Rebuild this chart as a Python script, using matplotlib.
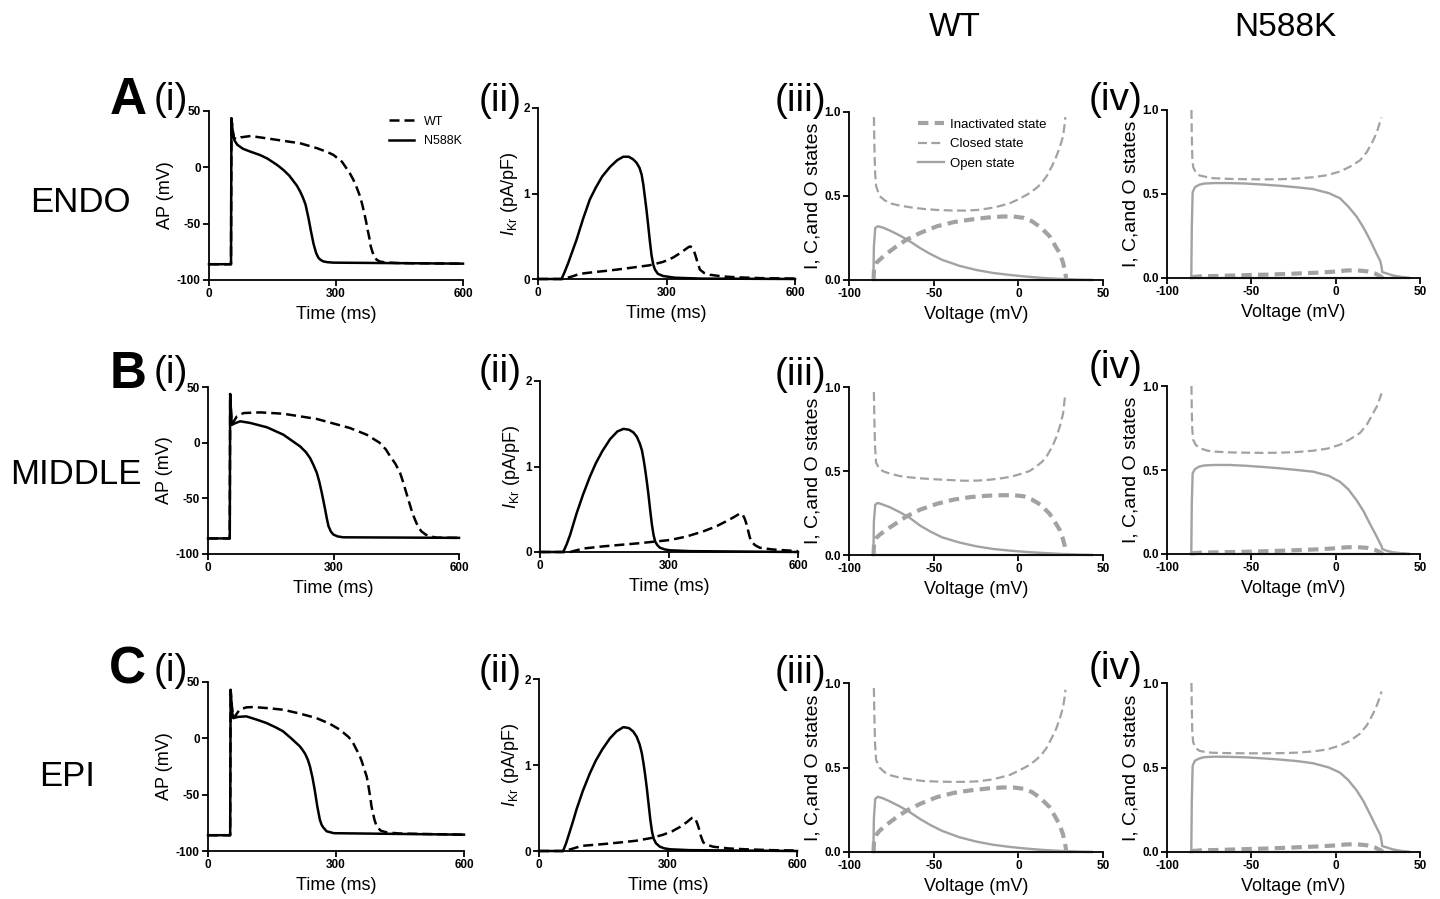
import numpy as np
import matplotlib.pyplot as plt

plt.rcParams['font.family'] = ['Liberation Sans', 'DejaVu Sans']
plt.rcParams['mathtext.fontset'] = 'custom'
plt.rcParams['mathtext.rm'] = 'Liberation Sans'
plt.rcParams['mathtext.it'] = 'Liberation Sans:italic'

# ---------------- action potentials (ms, mV) ----------------
endo_ap_wt_t = [0, 50, 52, 53, 56, 59, 67, 75, 98, 137, 176, 216, 255, 280, 294, 314, 325, 333, 341, 349, 357, 362, 367, 371, 375, 379, 382, 386, 390, 396, 404, 420, 450, 600]
endo_ap_wt_v = [-86, -86, -86, 43.5, 33, 26, 25, 26.6, 27.8, 25.7, 23.5, 21.3, 17, 13.5, 11, 5, -1, -5.5, -11, -18, -26, -33, -41, -48, -56, -63, -70, -75, -79, -82, -83.7, -84.5, -85, -85.5]
endo_ap_mut_t = [0, 50, 52, 53, 56, 60, 67, 80, 98, 120, 137, 161, 176, 190, 200, 208, 216, 222, 228, 235, 241, 247, 253, 258, 263, 270, 280, 294, 600]
endo_ap_mut_v = [-86, -86, -86, 43.5, 32, 24, 20, 16.5, 13.9, 11, 8, 2.1, -2.4, -7.5, -12.5, -16.5, -22, -27, -33, -45, -57, -68, -76, -80, -82, -83.5, -84.2, -84.6, -85.5]

mid_ap_wt_t = [0, 50, 52, 53, 55, 57, 63, 69, 85, 125, 180, 260, 339, 379, 410, 425, 435, 448, 459, 467, 474, 480, 486, 492, 498, 504, 510, 520, 530, 546, 600]
mid_ap_wt_v = [-86, -86, -86, 43.7, 28, 17, 20, 23.6, 26.6, 27.2, 26, 21.3, 13.2, 7.2, 0, -6, -12, -19, -27, -36, -45, -52.5, -60, -66.5, -72, -76.5, -79.6, -82.5, -84, -85.3, -85.5]
mid_ap_mut_t = [0, 50, 52, 53, 55, 57, 65, 77, 101, 141, 180, 220, 234, 244, 252, 260, 266, 272, 276, 280, 284, 288, 294, 300, 310, 323, 600]
mid_ap_mut_v = [-86, -86, -86, 43.7, 28, 16, 17.5, 19.2, 17.7, 13.8, 7.2, -3.3, -8.5, -13.8, -20, -27, -35, -45, -52.5, -60, -68, -75, -80, -82.6, -84.2, -85, -85.5]

epi_ap_wt_t = [0, 50, 52, 53, 56, 59, 64, 74, 90, 106, 140, 176, 215, 254, 285, 309, 330, 340, 348, 355, 360, 366, 372, 375, 378, 381, 383, 387, 390, 395, 405, 419, 450, 600]
epi_ap_wt_v = [-86, -86, -86, 43, 28, 18, 20, 25.4, 27.5, 27.8, 26.8, 25.4, 22, 18, 13, 7.7, 1, -4, -10, -15, -20, -27, -34, -40, -47, -54, -60, -67, -72, -78, -82, -83.5, -84.5, -85.5]
epi_ap_mut_t = [0, 50, 52, 53, 57, 60, 70, 90, 115, 137, 160, 176, 195, 215, 222, 228, 234, 239, 245, 250, 256, 262, 266, 270, 278, 295, 600]
epi_ap_mut_v = [-86, -86, -86, 43, 22, 18, 19, 19.5, 16.5, 13.6, 9.5, 6.2, 0, -7, -10.5, -14, -19, -25, -35, -45.5, -60, -72, -76.5, -79, -82.5, -84.2, -85.5]

# ---------------- IKr (ms, pA/pF) ----------------
endo_ikr_mut_t = [0, 55, 62, 70, 80, 90, 105, 121, 135, 150, 168, 185, 199, 212, 222, 230, 237, 242, 246, 249, 253, 257, 261, 265, 269, 273, 280, 292, 320, 380, 600]
endo_ikr_mut_i = [0, 0, 0.08, 0.18, 0.32, 0.46, 0.70, 0.93, 1.07, 1.20, 1.31, 1.39, 1.43, 1.43, 1.40, 1.36, 1.30, 1.22, 1.10, 0.98, 0.82, 0.64, 0.45, 0.28, 0.17, 0.11, 0.06, 0.035, 0.015, 0.005, 0]
endo_ikr_wt_t = [0, 58, 80, 97, 130, 168, 200, 230, 260, 292, 315, 331, 345, 352, 356, 360, 364, 368, 372, 378, 388, 401, 430, 464, 520, 600]
endo_ikr_wt_i = [0, 0, 0.03, 0.06, 0.08, 0.10, 0.12, 0.14, 0.16, 0.20, 0.25, 0.30, 0.35, 0.375, 0.38, 0.365, 0.33, 0.27, 0.20, 0.11, 0.07, 0.05, 0.03, 0.02, 0.01, 0.005]

mid_ikr_mut_t = [0, 54, 62, 70, 85, 100, 116, 130, 145, 163, 180, 194, 207, 217, 225, 232, 237, 241, 245, 249, 252, 256, 260, 264, 268, 273, 279, 290, 302, 350, 600]
mid_ikr_mut_i = [0, 0, 0.09, 0.2, 0.45, 0.67, 0.88, 1.04, 1.18, 1.32, 1.41, 1.44, 1.43, 1.40, 1.35, 1.27, 1.19, 1.08, 0.95, 0.80, 0.68, 0.50, 0.33, 0.20, 0.12, 0.08, 0.05, 0.03, 0.02, 0.01, 0]
mid_ikr_wt_t = [0, 70, 100, 147, 225, 302, 340, 379, 410, 441, 455, 463, 468, 472, 476, 480, 484, 488, 492, 500, 511, 540, 570, 600]
mid_ikr_wt_i = [0, 0, 0.04, 0.066, 0.10, 0.14, 0.18, 0.24, 0.30, 0.38, 0.42, 0.445, 0.45, 0.43, 0.39, 0.33, 0.25, 0.17, 0.12, 0.08, 0.05, 0.03, 0.02, 0.01]

epi_ikr_mut_t = [0, 56, 63, 70, 80, 87, 102, 118, 132, 147, 165, 180, 196, 209, 219, 227, 234, 239, 243, 247, 251, 255, 259, 263, 267, 272, 281, 292, 305, 350, 600]
epi_ikr_mut_i = [0, 0, 0.09, 0.2, 0.36, 0.48, 0.70, 0.90, 1.05, 1.18, 1.31, 1.39, 1.44, 1.43, 1.39, 1.33, 1.24, 1.14, 1.02, 0.88, 0.72, 0.54, 0.36, 0.22, 0.14, 0.09, 0.05, 0.03, 0.02, 0.01, 0]
epi_ikr_wt_t = [0, 60, 80, 100, 149, 190, 227, 260, 289, 310, 328, 345, 352, 356, 360, 364, 368, 372, 376, 382, 392, 405, 440, 480, 540, 600]
epi_ikr_wt_i = [0, 0, 0.03, 0.06, 0.08, 0.10, 0.12, 0.15, 0.19, 0.23, 0.28, 0.34, 0.37, 0.385, 0.39, 0.37, 0.32, 0.26, 0.18, 0.10, 0.07, 0.05, 0.03, 0.02, 0.01, 0.005]

# ---------------- channel states vs voltage, WT ----------------
wt_closed_v = [-85.3, -85.0, -84.6, -84.0, -82, -79, -76, -70, -64, -56, -48, -40, -32, -24, -17, -11, -5, 0, 6.7, 11, 14, 16.6, 20, 22.4, 24.5, 26.4, 27.4, 27.8]
endo_wt_closed = [0.97, 0.80, 0.64, 0.56, 0.50, 0.475, 0.457, 0.443, 0.433, 0.423, 0.417, 0.414, 0.413, 0.417, 0.427, 0.44, 0.457, 0.48, 0.517, 0.55, 0.58, 0.616, 0.68, 0.735, 0.79, 0.855, 0.93, 0.97]
mid_wt_closed = [0.97, 0.80, 0.64, 0.55, 0.51, 0.495, 0.485, 0.47, 0.462, 0.455, 0.45, 0.446, 0.442, 0.443, 0.448, 0.455, 0.465, 0.478, 0.50, 0.53, 0.555, 0.585, 0.645, 0.70, 0.765, 0.84, 0.93, 0.96]
epi_wt_closed = [0.97, 0.80, 0.64, 0.545, 0.50, 0.472, 0.455, 0.44, 0.43, 0.42, 0.417, 0.415, 0.415, 0.418, 0.427, 0.44, 0.456, 0.48, 0.515, 0.55, 0.58, 0.615, 0.68, 0.73, 0.79, 0.855, 0.92, 0.96]

wt_inact_v = [-85.5, -85.2, -84, -82, -78, -72, -66, -58, -48, -38, -28, -18, -9, -2, 3, 8, 13, 18.5, 22, 24.4, 26.2, 27.4, 28, 28.3]
endo_wt_inact = [0.0, 0.07, 0.10, 0.12, 0.155, 0.20, 0.24, 0.28, 0.32, 0.345, 0.36, 0.372, 0.378, 0.377, 0.37, 0.35, 0.315, 0.26, 0.20, 0.16, 0.11, 0.06, 0.025, 0.0]
mid_wt_inact = [0.0, 0.07, 0.10, 0.12, 0.15, 0.19, 0.23, 0.27, 0.305, 0.33, 0.345, 0.353, 0.356, 0.355, 0.35, 0.33, 0.30, 0.245, 0.19, 0.15, 0.10, 0.055, 0.02, 0.0]
epi_wt_inact = [0.0, 0.07, 0.10, 0.125, 0.16, 0.205, 0.245, 0.285, 0.325, 0.35, 0.365, 0.376, 0.382, 0.381, 0.374, 0.355, 0.32, 0.265, 0.205, 0.16, 0.11, 0.06, 0.025, 0.0]

wt_open_v = [-86, 44, 35, 26, 15, 5, -5, -15, -25, -35, -45, -52, -58, -64, -70, -76, -80, -83, -84.5, -85.3, -85.6]
endo_wt_open = [0, 0, 0.002, 0.006, 0.012, 0.02, 0.03, 0.042, 0.06, 0.085, 0.12, 0.155, 0.19, 0.23, 0.265, 0.295, 0.312, 0.32, 0.31, 0.2, 0]
mid_wt_open = [0, 0, 0.002, 0.006, 0.012, 0.018, 0.026, 0.036, 0.052, 0.075, 0.105, 0.14, 0.175, 0.22, 0.255, 0.285, 0.30, 0.31, 0.30, 0.2, 0]
epi_wt_open = [0, 0, 0.002, 0.006, 0.012, 0.02, 0.03, 0.043, 0.062, 0.088, 0.125, 0.16, 0.195, 0.235, 0.27, 0.30, 0.318, 0.327, 0.315, 0.2, 0]

# ---------------- channel states vs voltage, N588K ----------------
mut_closed_v = [-85.5, -85.3, -85.0, -84.5, -83, -80.6, -76, -72.7, -63, -52.9, -43, -33, -23, -13.3, -5, 2.5, 8, 14.4, 18.5, 22.3, 24.5, 26.3, 27.2]
endo_mut_closed = [1.0, 0.85, 0.72, 0.66, 0.63, 0.61, 0.60, 0.594, 0.59, 0.588, 0.587, 0.588, 0.592, 0.60, 0.612, 0.634, 0.66, 0.70, 0.75, 0.82, 0.87, 0.93, 0.955]
mid_mut_closed = [1.0, 0.85, 0.74, 0.68, 0.65, 0.63, 0.615, 0.61, 0.605, 0.603, 0.602, 0.603, 0.607, 0.615, 0.627, 0.65, 0.68, 0.72, 0.77, 0.84, 0.88, 0.93, 0.956]
epi_mut_closed = [1.0, 0.85, 0.71, 0.65, 0.615, 0.598, 0.59, 0.587, 0.585, 0.584, 0.584, 0.585, 0.588, 0.595, 0.607, 0.63, 0.655, 0.70, 0.75, 0.82, 0.87, 0.92, 0.95]

mut_open_v = [-86, 44, 40, 34, 30, 27.6, 27.3, 26.5, 24, 20.3, 16.5, 12.4, 7.5, 2.5, -4, -13.3, -23, -33, -43, -52.9, -63, -72, -78, -81, -83.5, -84.8, -85.3, -85.6]
endo_mut_open = [0, 0, 0.005, 0.015, 0.028, 0.035, 0.06, 0.1, 0.15, 0.228, 0.30, 0.366, 0.425, 0.475, 0.505, 0.529, 0.54, 0.549, 0.556, 0.562, 0.565, 0.565, 0.562, 0.555, 0.54, 0.51, 0.3, 0]
mid_mut_open = [0, 0, 0.004, 0.01, 0.02, 0.03, 0.045, 0.06, 0.11, 0.18, 0.255, 0.32, 0.385, 0.43, 0.465, 0.49, 0.50, 0.51, 0.518, 0.525, 0.53, 0.53, 0.527, 0.52, 0.505, 0.48, 0.3, 0]
epi_mut_open = [0, 0, 0.005, 0.015, 0.028, 0.035, 0.06, 0.1, 0.15, 0.225, 0.30, 0.365, 0.425, 0.47, 0.50, 0.525, 0.538, 0.547, 0.554, 0.56, 0.563, 0.564, 0.561, 0.553, 0.54, 0.51, 0.3, 0]

mut_inact_v = [-85.5, -80, -70, -60, -50, -40, -30, -20, -10, 0, 6.5, 12, 18.4, 23, 26.3, 28]
endo_mut_inact = [0.005, 0.01, 0.012, 0.015, 0.018, 0.02, 0.024, 0.028, 0.032, 0.038, 0.045, 0.046, 0.04, 0.028, 0.012, 0.0]
mid_mut_inact = [0.004, 0.008, 0.01, 0.012, 0.014, 0.017, 0.02, 0.024, 0.028, 0.034, 0.04, 0.041, 0.037, 0.026, 0.011, 0.0]
epi_mut_inact = [0.005, 0.01, 0.012, 0.015, 0.018, 0.021, 0.025, 0.029, 0.033, 0.039, 0.045, 0.046, 0.04, 0.028, 0.012, 0.0]

row_names = ['ENDO', 'MIDDLE', 'EPI']
row_letters = ['A', 'B', 'C']
panel_tags = ['(i)', '(ii)', '(iii)', '(iv)']

ap = [(endo_ap_wt_t, endo_ap_wt_v, endo_ap_mut_t, endo_ap_mut_v),
      (mid_ap_wt_t, mid_ap_wt_v, mid_ap_mut_t, mid_ap_mut_v),
      (epi_ap_wt_t, epi_ap_wt_v, epi_ap_mut_t, epi_ap_mut_v)]
ikr = [(endo_ikr_wt_t, endo_ikr_wt_i, endo_ikr_mut_t, endo_ikr_mut_i),
       (mid_ikr_wt_t, mid_ikr_wt_i, mid_ikr_mut_t, mid_ikr_mut_i),
       (epi_ikr_wt_t, epi_ikr_wt_i, epi_ikr_mut_t, epi_ikr_mut_i)]
wt_states = [(endo_wt_inact, endo_wt_closed, endo_wt_open),
             (mid_wt_inact, mid_wt_closed, mid_wt_open),
             (epi_wt_inact, epi_wt_closed, epi_wt_open)]
mut_states = [(endo_mut_inact, endo_mut_closed, endo_mut_open),
              (mid_mut_inact, mid_mut_closed, mid_mut_open),
              (epi_mut_inact, epi_mut_closed, epi_mut_open)]

# ---------------- layout (pixels) ----------------
W, H = 1440, 899
boxes = [
    [(209, 463, 111, 280), (538, 795, 108, 279), (849, 1103, 112, 280), (1167, 1420, 110, 278)],
    [(208, 459, 387, 554), (540, 798, 381, 552), (849, 1103, 387, 555), (1167, 1420, 386, 554)],
    [(208, 464, 682, 851), (539, 797, 679, 851), (849, 1103, 683, 852), (1167, 1420, 683, 852)],
]
letter_pos = [(128, 101), (128, 374), (127, 670)]
tag_pos = [
    [(171, 100), (500, 101), (800, 101), (1116, 100)],
    [(171, 373), (500, 372), (800, 375), (1116, 368)],
    [(171, 671), (500, 672), (800, 673), (1116, 669)],
]
name_pos = [(80, 203), (76, 474), (67, 776)]

GRAY = '#a2a2a2'

fig = plt.figure(figsize=(W / 100, H / 100), dpi=100)


def add_panel(box):
    x0, x1, y0, y1 = box
    return fig.add_axes([x0 / W, 1 - y1 / H, (x1 - x0) / W, (y1 - y0) / H])


def style(ax, xlim, ylim, xticks, yticks, xlabel, ylabel, yfmt='{:g}', ysize=13):
    ax.set_xlim(xlim)
    ax.set_ylim(ylim)
    ax.set_xticks(xticks, [f'{x:g}' for x in xticks], fontsize=8.5, fontweight='bold')
    ax.set_yticks(yticks, [yfmt.format(y) for y in yticks], fontsize=8.5, fontweight='bold')
    for s in ['top', 'right']:
        ax.spines[s].set_visible(False)
    for s in ['left', 'bottom']:
        ax.spines[s].set_linewidth(1.3)
    ax.tick_params(direction='out', length=4, width=1.3, pad=2)
    ax.set_xlabel(xlabel, fontsize=13, labelpad=4)
    ax.set_ylabel(ylabel, fontsize=ysize, labelpad=2)
    ax.patch.set_alpha(0)


for r in range(3):
    # (i) action potential
    ax = add_panel(boxes[r][0])
    wt_t, wt_v, mu_t, mu_v = ap[r]
    ax.plot(wt_t, wt_v, color='black', lw=1.8, ls=(0, (4, 2)), label='WT', clip_on=False)
    ax.plot(mu_t, mu_v, color='black', lw=1.8, label='N588K', clip_on=False)
    style(ax, (0, 600), (-100, 50), [0, 300, 600], [-100, -50, 0, 50], 'Time (ms)', 'AP (mV)')
    if r == 0:
        ax.legend(loc='upper left', bbox_to_anchor=(0.685, 1.01), frameon=False, fontsize=9,
                  handlelength=2.0, handletextpad=0.8, labelspacing=0.6, borderpad=0)

    # (ii) IKr
    ax = add_panel(boxes[r][1])
    wt_t, wt_i, mu_t, mu_i = ikr[r]
    ax.plot(wt_t, wt_i, color='black', lw=1.8, ls=(0, (4, 2)), clip_on=False)
    ax.plot(mu_t, mu_i, color='black', lw=1.8, clip_on=False)
    style(ax, (0, 600), (0, 2), [0, 300, 600], [0, 1, 2], 'Time (ms)', r'$I_{\mathrm{Kr}}$ (pA/pF)')

    # (iii) WT states, (iv) N588K states
    for k, (states, cv, iv, ov) in enumerate([
            (wt_states[r], wt_closed_v, wt_inact_v, wt_open_v),
            (mut_states[r], mut_closed_v, mut_inact_v, mut_open_v)]):
        ax = add_panel(boxes[r][2 + k])
        p_inact, p_closed, p_open = states
        ax.plot(iv, p_inact, color=GRAY, lw=3.0, ls=(0, (2.5, 1.5)), label='Inactivated state', clip_on=False)
        ax.plot(cv, p_closed, color=GRAY, lw=1.6, ls=(0, (4, 2)), label='Closed state', clip_on=False)
        ax.plot(ov, p_open, color=GRAY, lw=1.7, label='Open state', clip_on=False)
        style(ax, (-100, 50), (0, 1), [-100, -50, 0, 50], [0, 0.5, 1.0],
              'Voltage (mV)', 'I, C,and O states', yfmt='{:.1f}', ysize=14)
        if r == 0 and k == 0:
            ax.legend(loc='upper left', bbox_to_anchor=(0.245, 1.0), frameon=False, fontsize=9.5,
                      handlelength=2.0, handletextpad=0.45, labelspacing=0.55, borderpad=0)

    # row annotations
    x, y = letter_pos[r]
    fig.text(x / W, 1 - y / H, row_letters[r], fontsize=37, fontweight='bold', ha='center', va='center')
    for c in range(4):
        x, y = tag_pos[r][c]
        fig.text(x / W, 1 - y / H, panel_tags[c], fontsize=28, ha='center', va='center')
    x, y = name_pos[r]
    fig.text(x / W, 1 - y / H, row_names[r], fontsize=25, ha='center', va='center')

fig.text(955 / W, 1 - 28 / H, 'WT', fontsize=24, ha='center', va='center')
fig.text(1285 / W, 1 - 28 / H, 'N588K', fontsize=24, ha='center', va='center')

fig.savefig('out.png', dpi=100)
